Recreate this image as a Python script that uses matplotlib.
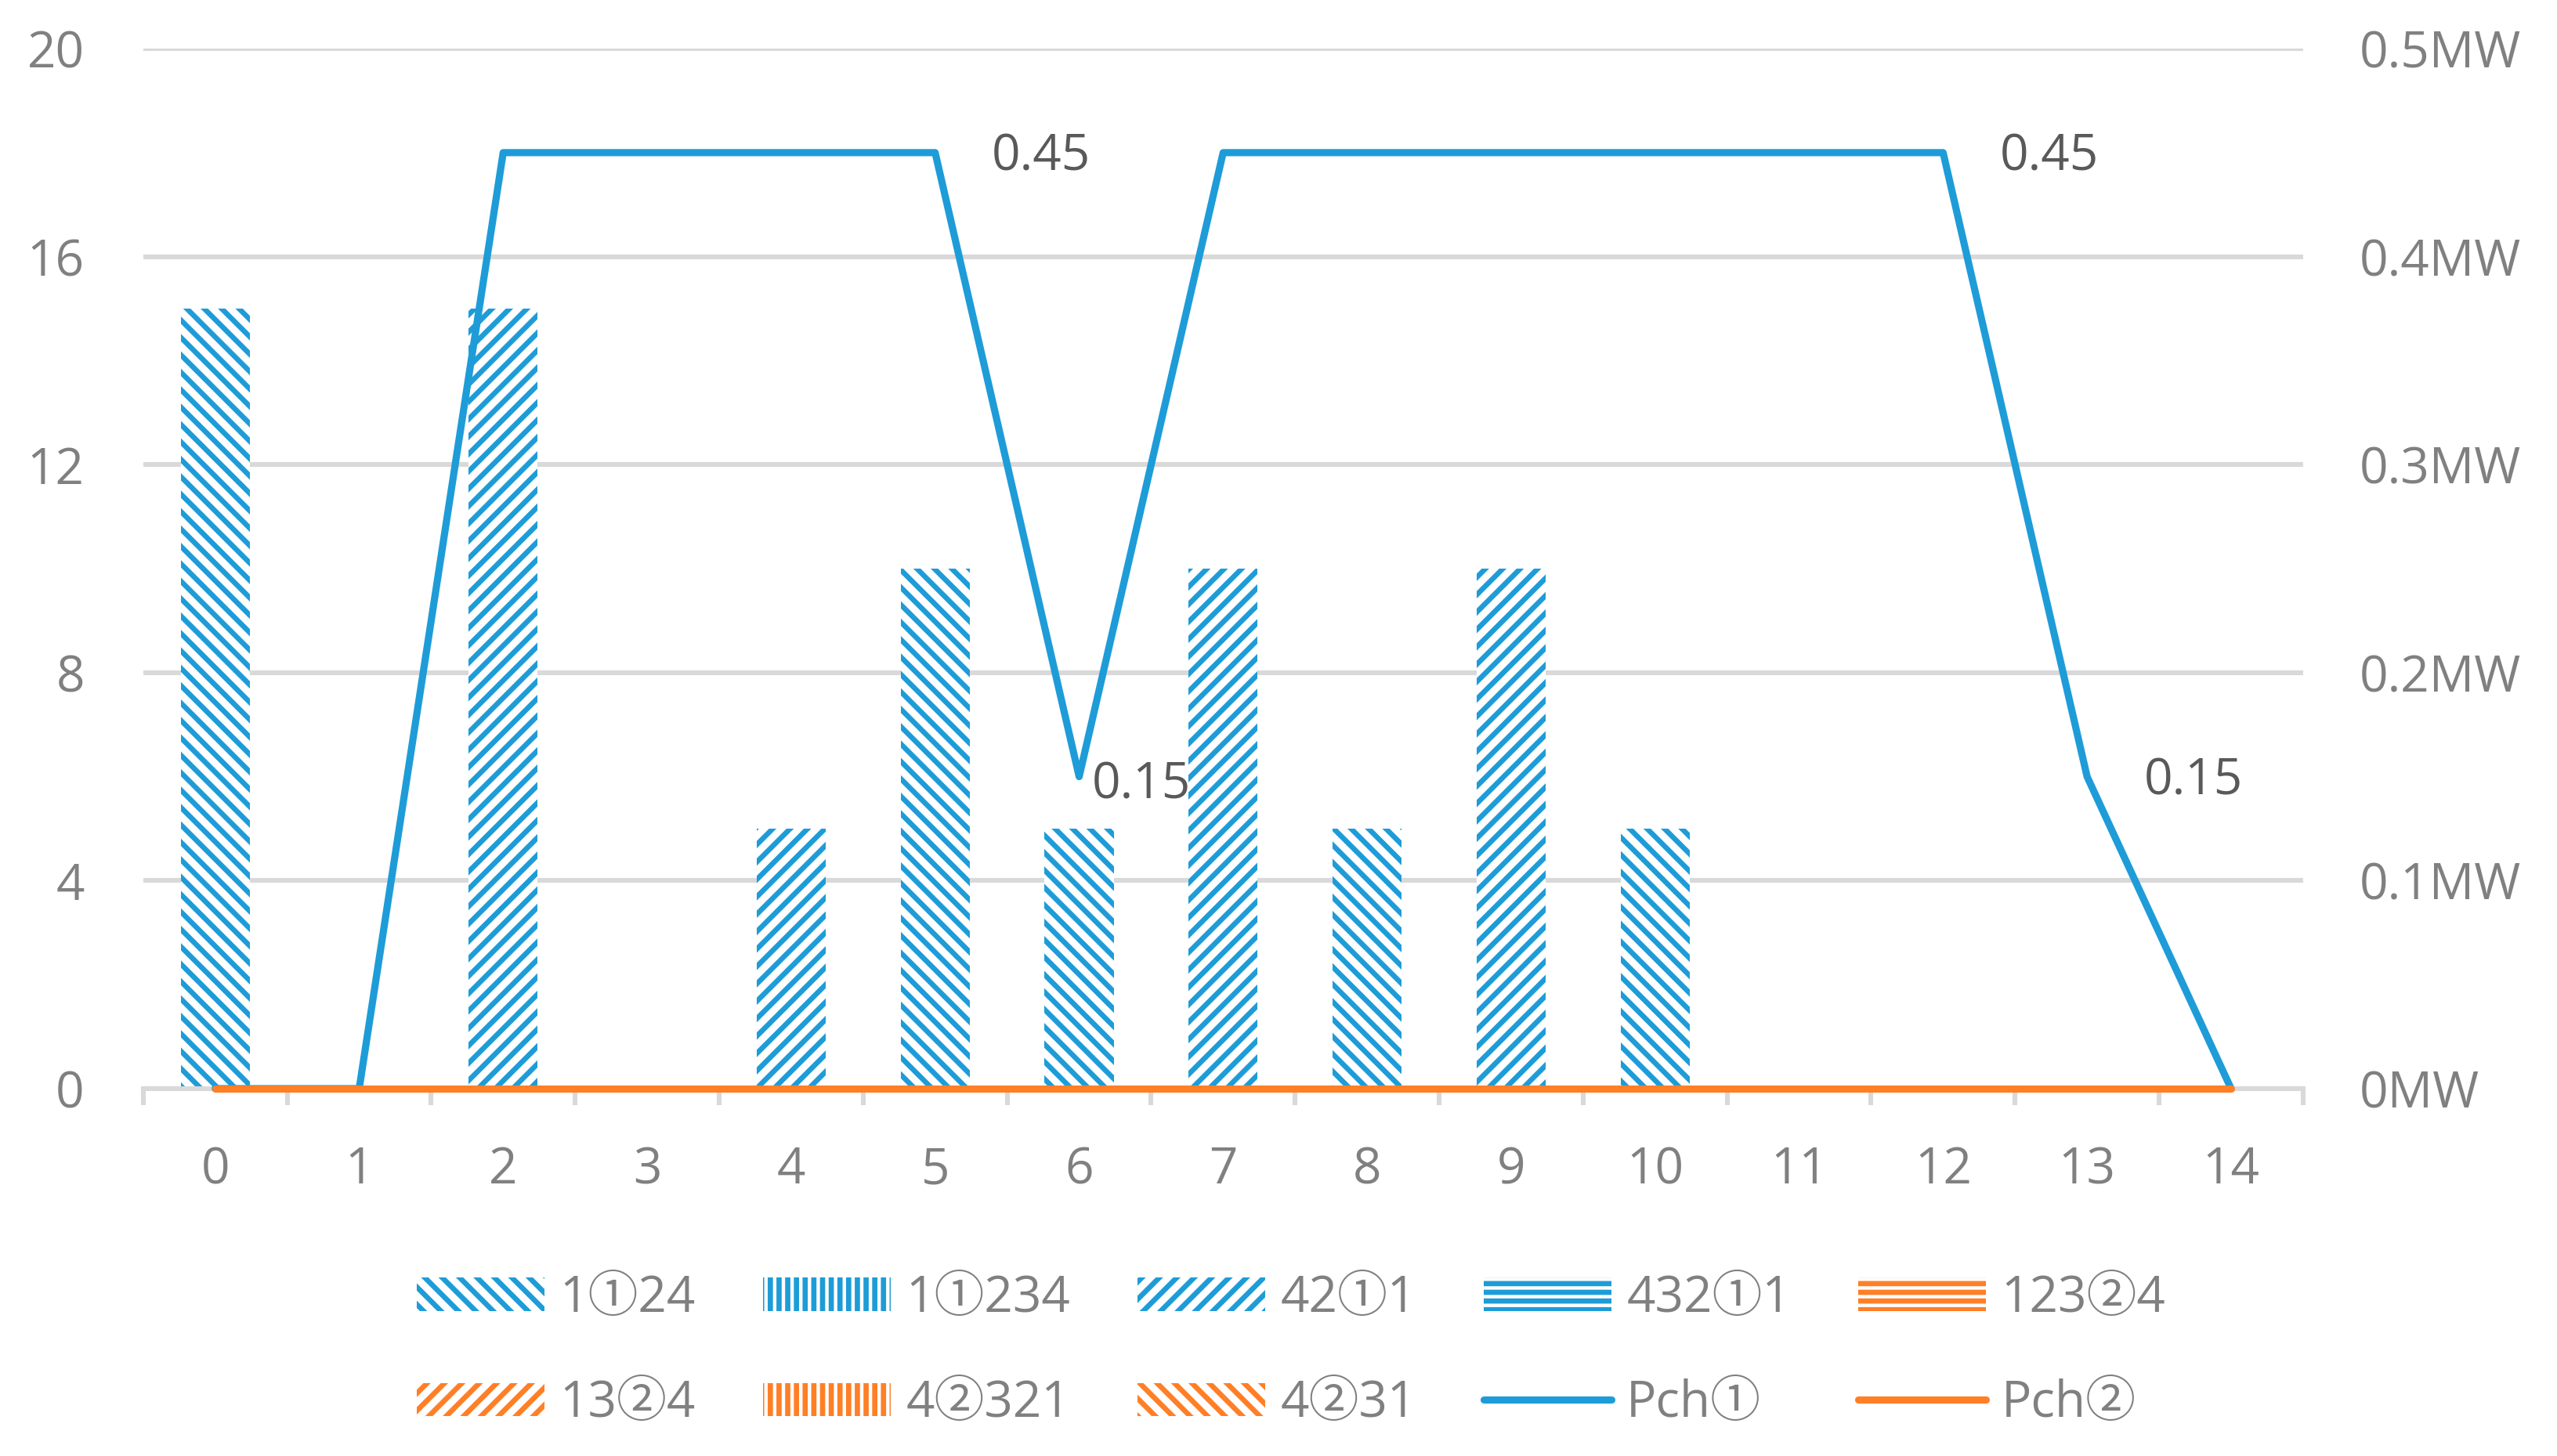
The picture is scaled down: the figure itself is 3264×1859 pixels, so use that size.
import numpy as np
import matplotlib.pyplot as plt
from matplotlib.ticker import FixedLocator

plt.rcParams['font.family'] = ['Open Sans', 'Noto Sans CJK SC', 'DejaVu Sans']
plt.rcParams['hatch.linewidth'] = 2.4

# ---- data ----
x_labels = ['0', '1', '2', '3', '4', '5', '6', '7', '8', '9', '10', '11', '12', '13', '14']
bar_names = ['1①24', '1①234', '42①1', '432①1', '123②4', '13②4', '4②321', '4②31']
s_1_24 = [15, 0, 0, 0, 0, 10, 5, 0, 5, 0, 5, 0, 0, 0, 0]
s_1_234 = [0] * 15
s_42_1 = [0, 0, 15, 0, 5, 0, 0, 10, 0, 10, 0, 0, 0, 0, 0]
s_432_1 = [0] * 15
s_123_24 = [0] * 15
s_13_24 = [0] * 15
s_4_2321 = [0] * 15
s_4_231 = [0] * 15
pch1 = [0, 0, 0.45, 0.45, 0.45, 0.45, 0.15, 0.45, 0.45, 0.45, 0.45, 0.45, 0.45, 0.15, 0]
pch2 = [0] * 15
label_idx = [5, 6, 12, 13]

blue = '#1E9CD8'
orange = '#FF7F27'
grid_c = '#D9D9D9'
txt_c = '#808080'

fig = plt.figure(figsize=(16.32, 9.295), dpi=200)
ax = fig.add_axes([0.056, 0.2523, 0.8447, 0.7143])
ax2 = ax.twinx()

x = np.arange(len(x_labels))
series = [s_1_24, s_1_234, s_42_1, s_432_1, s_123_24, s_13_24, s_4_2321, s_4_231]
colors = [blue, blue, blue, blue, orange, orange, orange, orange]
hatches = ['\\\\\\', '|||', '///', '---', '---', '///', '|||', '\\\\\\']

handles = []
bottom = np.zeros(len(x))
for name, vals, c, h in zip(bar_names, series, colors, hatches):
    b = ax.bar(x, vals, 0.48, bottom=bottom, color='white', edgecolor=c,
               hatch=h, linewidth=0, label=name, zorder=2)
    bottom += np.array(vals)
    handles.append(b)

l1, = ax2.plot(x, pch1, color=blue, lw=3.3, label='Pch①',
               solid_capstyle='round', clip_on=False)
l2, = ax2.plot(x, pch2, color=orange, lw=3.3, label='Pch②',
               solid_capstyle='round', clip_on=False)
handles += [l1, l2]

for i in label_idx:
    dx = 6 if i == 6 else 26
    dy = -4 if i == 6 else -2
    ax2.annotate('{:g}'.format(pch1[i]), (x[i], pch1[i]), xytext=(dx, dy),
                 textcoords='offset points', ha='left', va='center',
                 fontsize=23, color='#595959')

# axes styling
ax.set_xlim(-0.5, 14.5)
ax.set_ylim(0, 20)
ax2.set_ylim(0, 0.5)
ax.set_yticks([0, 4, 8, 12, 16, 20])
ax2.set_yticks([0, 0.1, 0.2, 0.3, 0.4, 0.5])
ax2.set_yticklabels(['0MW', '0.1MW', '0.2MW', '0.3MW', '0.4MW', '0.5MW'])
ax.set_xticks(x)
ax.set_xticklabels(x_labels)
ax.xaxis.set_minor_locator(FixedLocator(np.arange(-0.5, 15, 1)))

ax.grid(axis='y', color=grid_c, lw=2.2, zorder=0)
ax.set_axisbelow(True)
for a in (ax, ax2):
    for s in ['top', 'left', 'right', 'bottom']:
        a.spines[s].set_visible(False)
ax.spines['bottom'].set_visible(True)
ax.spines['bottom'].set_color(grid_c)
ax.spines['bottom'].set_linewidth(2.2)

ax.tick_params(axis='x', which='major', length=0, pad=26, labelsize=23, labelcolor=txt_c)
ax.tick_params(axis='x', which='minor', length=7.5, width=2.2, color=grid_c)
ax.tick_params(axis='y', length=0, pad=27, labelsize=23, labelcolor=txt_c)
ax2.tick_params(axis='y', length=0, pad=26, labelsize=23, labelcolor=txt_c)

# legend in row order
order = [0, 5, 1, 6, 2, 7, 3, 8, 4, 9]
names = bar_names + ['Pch①', 'Pch②']
leg = fig.legend([handles[i] for i in order], [names[i] for i in order],
                 loc='center', bbox_to_anchor=(0.505, 0.072), ncol=5,
                 frameon=False, fontsize=23, handlelength=2.55, handleheight=0.65,
                 handletextpad=0.3, columnspacing=1.35, labelspacing=1.1)
for t in leg.get_texts():
    t.set_color(txt_c)

fig.savefig('out.png', dpi=200)
